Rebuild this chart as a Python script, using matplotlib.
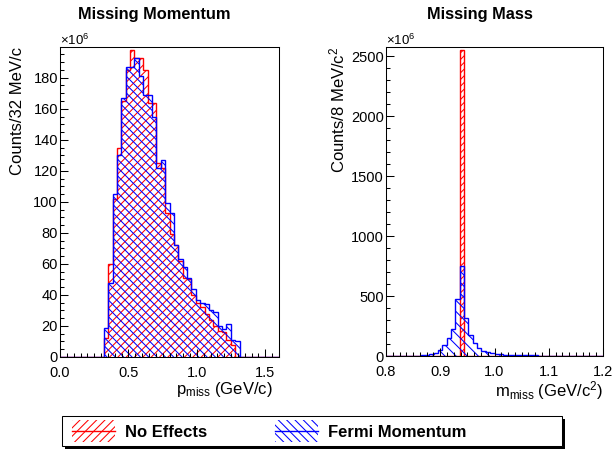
import matplotlib
matplotlib.use("Agg")
import matplotlib.pyplot as plt
import numpy as np
from matplotlib.patches import Rectangle
from matplotlib.lines import Line2D
from matplotlib.ticker import MultipleLocator, FormatStrFormatter

plt.rcParams['font.family'] = ['Liberation Sans', 'DejaVu Sans']
plt.rcParams['mathtext.fontset'] = 'custom'
plt.rcParams['mathtext.rm'] = 'Liberation Sans'
plt.rcParams['mathtext.it'] = 'Liberation Sans:italic'
plt.rcParams['mathtext.bf'] = 'Liberation Sans:bold'
plt.rcParams['hatch.linewidth'] = 0.75

# missing momentum, 50 bins of 32 MeV/c from 0 to 1.6 GeV/c, counts in 1e6
pmiss_edges = np.linspace(0.0, 1.6, 51)
pmiss_none = [0, 0, 0, 0, 0, 0, 0, 0, 0, 0,
              12, 60, 102, 135, 165, 185, 198, 193, 193, 185,
              164, 164, 125, 122, 93, 79, 72, 62, 51, 50,
              40, 35, 32, 28, 24, 20, 17, 16, 11, 8,
              0, 0, 0, 0, 0, 0, 0, 0, 0, 0]
pmiss_fermi = [0, 0, 0, 0, 0, 0, 0, 0, 0, 0,
               19, 48, 105, 130, 167, 187, 187, 193, 181, 169,
               169, 155, 122, 127, 99, 93, 72, 63, 58, 51,
               44, 37, 35, 34, 30, 29, 20, 18, 21, 11,
               10, 0, 0, 0, 0, 0, 0, 0, 0, 0]

# missing mass, 50 bins of 8 MeV/c^2 from 0.8 to 1.2 GeV/c^2, counts in 1e6
mmiss_edges = np.linspace(0.8, 1.2, 51)
mmiss_none = [0, 0, 0, 0, 0, 0, 0, 0, 0, 0,
              0, 0, 0, 0, 0, 0, 0, 2547, 0, 0,
              0, 0, 0, 0, 0, 0, 0, 0, 0, 0,
              0, 0, 0, 0, 0, 0, 0, 0, 0, 0,
              0, 0, 0, 0, 0, 0, 0, 0, 0, 0]
mmiss_fermi = [0, 0, 0, 0, 0, 0, 2, 4, 8, 12,
               18, 28, 50, 90, 150, 222, 472, 752, 320, 178,
               105, 68, 44, 30, 22, 17, 14, 12, 10, 9,
               8, 7, 6, 5, 5, 4, 4, 3, 3, 2,
               2, 1, 1, 1, 1, 1, 1, 1, 1, 1]

labels = ['No Effects', 'Fermi Momentum']
colors = ['red', 'blue']

W, H = 612, 449
fig = plt.figure(figsize=(W / 100, H / 100), dpi=100)


def px_axes(x0, y0, x1, y1):
    return fig.add_axes([x0 / W, 1 - y1 / H, (x1 - x0) / W, (y1 - y0) / H])


def px_text(x, y, s, **kw):
    return fig.text(x / W, 1 - y / H, s, **kw)


def style(ax):
    for sp in ax.spines.values():
        sp.set_linewidth(0.75)
    ax.tick_params(which='both', direction='in', top=False, right=False,
                   labelsize=10.5, width=0.75)
    ax.tick_params(which='major', length=6)
    ax.tick_params(which='minor', length=3)
    ax.tick_params(axis='x', pad=6.5)
    ax.tick_params(axis='y', pad=1.5)


ax1 = px_axes(60, 47, 279, 357)
ax1.stairs(pmiss_none, pmiss_edges, fill=True, facecolor='none',
           edgecolor=colors[0], hatch='////', lw=1)
ax1.stairs(pmiss_fermi, pmiss_edges, fill=True, facecolor='none',
           edgecolor=colors[1], hatch='\\\\\\\\', lw=1)
ax1.set_xlim(0, 1.6)
ax1.set_ylim(0, 199.8)
ax1.xaxis.set_major_locator(MultipleLocator(0.5))
ax1.xaxis.set_minor_locator(MultipleLocator(0.05))
ax1.xaxis.set_major_formatter(FormatStrFormatter('%.1f'))
ax1.yaxis.set_major_locator(MultipleLocator(20))
ax1.yaxis.set_minor_locator(MultipleLocator(5))
style(ax1)

ax2 = px_axes(386, 47, 603, 356)
ax2.stairs(mmiss_none, mmiss_edges, fill=True, facecolor='none',
           edgecolor=colors[0], hatch='/////', lw=1)
ax2.stairs(mmiss_fermi, mmiss_edges, fill=True, facecolor='none',
           edgecolor=colors[1], hatch='\\\\\\', lw=1)
ax2.set_xlim(0.8, 1.2)
ax2.set_ylim(0, 2575)
ax2.xaxis.set_major_locator(MultipleLocator(0.1))
ax2.xaxis.set_minor_locator(MultipleLocator(0.0125))
ax2.xaxis.set_major_formatter(FormatStrFormatter('%.1f'))
ax2.yaxis.set_major_locator(MultipleLocator(500))
ax2.yaxis.set_minor_locator(MultipleLocator(100))
style(ax2)

# titles and axis labels
px_text(154.5, 18.5, 'Missing Momentum', ha='center', va='baseline',
        fontsize=11.8, fontweight='bold')
px_text(479.5, 18.5, 'Missing Mass', ha='center', va='baseline',
        fontsize=11.8, fontweight='bold')
px_text(273, 394, r'$\mathrm{p}_{\mathrm{miss}}$ (GeV/c)', ha='right',
        va='baseline', fontsize=12)
px_text(603, 396, r'$\mathrm{m}_{\mathrm{miss}}$ (GeV/c$^{2}$)', ha='right',
        va='baseline', fontsize=12)
px_text(18, 47, 'Counts/32 MeV/c', rotation=90, ha='center', va='top',
        fontsize=12)
px_text(337, 47, r'Counts/8 MeV/c$^{2}$', rotation=90, ha='center', va='top',
        fontsize=12)
px_text(60, 45, r'$\times$10$^{6}$', ha='left', va='baseline', fontsize=9.5)
px_text(386, 45, r'$\times$10$^{6}$', ha='left', va='baseline', fontsize=9.5)

# legend box at the bottom
lg = fig.add_axes([0, 0, 1, 1])
lg.set_xlim(0, W)
lg.set_ylim(H, 0)
lg.set_axis_off()
lg.patch.set_visible(False)
lg.add_patch(Rectangle((65.3, 418.7), 500, 30, facecolor='black',
                       edgecolor='none'))
lg.add_patch(Rectangle((62.3, 415.7), 500, 30, facecolor='white',
                       edgecolor='black', lw=0.75))
entry_x = [71.7, 275]
text_x = [125, 328]
hatches = ['////', '\\\\\\\\']
for i in range(2):
    lg.add_patch(Rectangle((entry_x[i], 420), 43.3, 21.7, facecolor='none',
                           edgecolor=colors[i], hatch=hatches[i], lw=0))
    lg.add_line(Line2D([entry_x[i], entry_x[i] + 43.3], [430.7, 430.7],
                       color=colors[i], lw=1))
    lg.text(text_x[i], 436.7, labels[i], fontsize=12, fontweight='bold',
            ha='left', va='baseline')

fig.savefig('out.png', dpi=100)
